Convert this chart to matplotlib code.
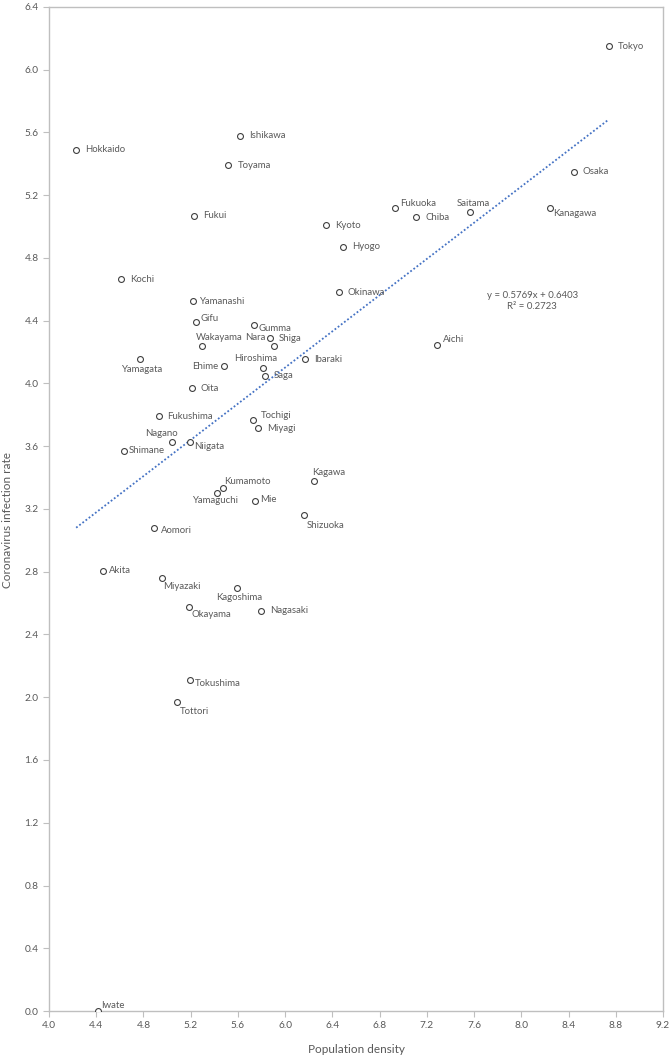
import numpy as np
import matplotlib
matplotlib.use('Agg')
import matplotlib.pyplot as plt

# prefecture values
prefectures = [
    "Tokyo", "Osaka", "Kanagawa", "Saitama", "Fukuoka", "Chiba", "Kyoto", "Hyogo",
    "Hokkaido", "Ishikawa", "Toyama", "Fukui", "Kochi", "Yamanashi", "Gifu", "Gumma",
    "Nara", "Shiga", "Wakayama", "Yamagata", "Ehime", "Hiroshima", "Saga", "Ibaraki",
    "Okinawa", "Aichi", "Oita", "Fukushima", "Tochigi", "Miyagi", "Nagano", "Niigata",
    "Shimane", "Kagawa", "Kumamoto", "Yamaguchi", "Mie", "Shizuoka", "Aomori", "Akita",
    "Miyazaki", "Kagoshima", "Okayama", "Nagasaki", "Tokushima", "Tottori", "Iwate",
]
pop_density = [
    8.74, 8.445, 8.24, 7.565, 6.93, 7.11, 6.345, 6.49,
    4.23, 5.62, 5.52, 5.23, 4.61, 5.22, 5.245, 5.735,
    5.87, 5.905, 5.30, 4.77, 5.48, 5.81, 5.83, 6.17,
    6.455, 7.285, 5.21, 4.93, 5.73, 5.77, 5.04, 5.195,
    4.635, 6.245, 5.47, 5.42, 5.745, 6.16, 4.89, 4.457,
    4.957, 5.59, 5.185, 5.795, 5.195, 5.085, 4.415,
]
infection_rate = [
    6.15, 5.35, 5.12, 5.09, 5.12, 5.06, 5.01, 4.87,
    5.49, 5.58, 5.39, 5.07, 4.665, 4.525, 4.39, 4.37,
    4.29, 4.24, 4.24, 4.155, 4.11, 4.10, 4.05, 4.155,
    4.58, 4.245, 3.97, 3.79, 3.77, 3.716, 3.626, 3.63,
    3.57, 3.38, 3.333, 3.30, 3.25, 3.16, 3.08, 2.805,
    2.76, 2.696, 2.575, 2.55, 2.11, 1.97, 0.0,
]
slope = 0.5769
intercept = 0.6403
r_squared = 0.2723

x_ticks = np.arange(4.0, 9.21, 0.4)
y_ticks = np.arange(0.0, 6.41, 0.4)

# label placement (pixel offsets from the point, horizontal alignment)
label_pos = {
    "Kanagawa": (3, -6, "left"), "Saitama": (3, 9, "center"), "Fukuoka": (5, 4, "left"),
    "Gifu": (5, 4, "left"), "Gumma": (5, -3, "left"), "Nara": (-4, 0, "right"),
    "Shiga": (5, 7, "left"), "Wakayama": (17, 8, "center"), "Yamagata": (2, -10, "center"),
    "Ehime": (-5, 0, "right"), "Hiroshima": (-7, 9, "center"), "Aichi": (6, 6, "left"),
    "Tochigi": (8, 4, "left"), "Nagano": (-10, 9, "center"), "Niigata": (4, -5, "left"),
    "Shimane": (5, 0, "left"), "Kagawa": (-2, 8, "left"), "Kumamoto": (2, 7, "left"),
    "Yamaguchi": (-2, -7, "center"), "Mie": (5, 2, "left"), "Shizuoka": (3, -10, "left"),
    "Aomori": (7, -3, "left"), "Akita": (6, 0, "left"), "Miyazaki": (1, -8, "left"),
    "Kagoshima": (2, -9, "center"), "Okayama": (3, -7, "left"), "Tokushima": (5, -4, "left"),
    "Tottori": (3, -10, "left"), "Iwate": (3, 6, "left"), "Yamanashi": (6, 0, "left"),
    "Fukushima": (8, 0, "left"),
}

TEXT = "#595959"
GRID = "#bfbfbf"

plt.rcParams['font.family'] = ['Lato', 'DejaVu Sans']

fig = plt.figure(figsize=(6.72, 10.55), dpi=100)
ax = fig.add_axes([0.0729, 0.0417, 0.9137, 0.9517])

ax.scatter(pop_density, infection_rate, s=18, facecolors='white',
           edgecolors='#404040', linewidths=0.8, zorder=3)

xs = np.array([min(pop_density), max(pop_density)])
ax.plot(xs, slope * xs + intercept, linestyle=(0, (1, 1.2)), color='#4472C4',
        linewidth=1.3, zorder=2)

for name, x, y in zip(prefectures, pop_density, infection_rate):
    dx, dy, ha = label_pos.get(name, (9, 0, "left"))
    ax.annotate(name, (x, y), xytext=(dx, dy), textcoords='offset pixels',
                ha=ha, va='center', fontsize=6.9, color=TEXT, zorder=4)

ax.text(0.787, 0.707, f"y = {slope}x + {intercept}\nR² = {r_squared}",
        transform=ax.transAxes, ha='center', va='center', fontsize=6.9,
        color=TEXT, linespacing=1.3)

ax.set_xlim(4.0, 9.2)
ax.set_ylim(0.0, 6.4)
ax.set_xticks(x_ticks)
ax.set_yticks(y_ticks)
ax.set_xticklabels([f"{v:.1f}" for v in x_ticks])
ax.set_yticklabels([f"{v:.1f}" for v in y_ticks])
ax.tick_params(axis='both', direction='out', length=4, width=0.8, color=GRID,
               labelcolor=TEXT, labelsize=7.3)

for side in ['left', 'bottom', 'top', 'right']:
    ax.spines[side].set_color(GRID)
    ax.spines[side].set_linewidth(1.0)

ax.set_xlabel("Population density", fontsize=8.5, color=TEXT, labelpad=10)
ax.set_ylabel("Coronavirus infection rate", fontsize=8.5, color=TEXT)
ax.yaxis.set_label_coords(-0.058, 0.489)

fig.savefig("out.png", dpi=100, facecolor='white')
plt.close(fig)
